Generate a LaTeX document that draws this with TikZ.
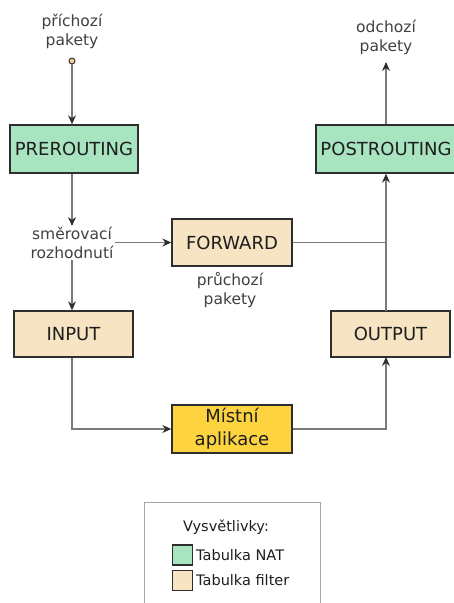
\documentclass[tikz,border=0pt]{standalone}
\usepackage{fontspec}
\setmainfont{DejaVu Sans}
\usetikzlibrary{arrows.meta}
\definecolor{natgreen}{HTML}{A8E4C0}
\definecolor{filterbeige}{HTML}{F6E4C2}
\definecolor{appyellow}{HTML}{FDD43F}
\definecolor{edgegray}{HTML}{7A7A7A}
\definecolor{boxedge}{HTML}{2E2E2E}
\definecolor{ink}{HTML}{1E1E1E}
\tikzset{
  tbl/.style={draw=boxedge, line width=1.4pt, inner sep=0pt, align=center,
    font=\fontsize{18}{23}\selectfont, text=ink},
  lbl/.style={align=center, font=\fontsize{15.5}{19}\selectfont, text=ink!85, inner sep=1pt},
  flow/.style={draw=edgegray, line width=1.1pt, line join=miter},
  arr/.style={flow, -{Stealth[length=9pt,width=8pt,inset=3pt,color=boxedge]}},
}
\begin{document}
\begin{tikzpicture}[x=1pt, y=-1pt]
\useasboundingbox (0,0) rectangle (453,603);

% tables
\node[tbl, fill=natgreen, minimum width=128pt, minimum height=48pt] (pre) at (74,149) {PREROUTING};
\node[tbl, fill=natgreen, minimum width=140pt, minimum height=48pt] (post) at (386,149) {POSTROUTING};
\node[tbl, fill=filterbeige, minimum width=120pt, minimum height=47pt] (fwd) at (232,242.5) {FORWARD};
\node[tbl, fill=filterbeige, minimum width=119pt, minimum height=46pt] (inp) at (73.5,334) {INPUT};
\node[tbl, fill=filterbeige, minimum width=119pt, minimum height=46pt] (out) at (390.5,334) {OUTPUT};
\node[tbl, fill=appyellow, minimum width=120pt, minimum height=48pt] (app) at (232,429) {Místní\\aplikace};

% labels
\node[lbl] (incoming) at (72,31) {příchozí\\pakety};
\node[lbl] (outgoing) at (386,37) {odchozí\\pakety};
\node[lbl] (route) at (72,243) {směrovací\\rozhodnutí};
\node[lbl] (through) at (230,290) {průchozí\\pakety};

% entry point
\node[circle, draw=boxedge, fill=filterbeige!80!orange, line width=0.9pt, minimum size=6pt, inner sep=0pt] (src) at (72,61) {};

% junctions on the right-hand column
\coordinate (jf) at (386,242.5);
\coordinate (ja) at (386,429);
\coordinate (jin) at (72,429);
\coordinate (outtop) at (386,311);
\coordinate (outbot) at (386,357);
\coordinate (outtip) at (386,62);

% connectors
\draw[arr] (src) -- (pre.north -| src);
\draw[arr] (pre.south -| src) -- (route.north);
\draw[arr] (route.east |- fwd.west) -- (fwd.west);
\draw[flow] (fwd.east) -- (jf);
\draw[arr] (route.south) -- (inp.north -| route);
\draw[arr] (inp.south -| route) -- (jin) -- (app.west);
\draw[arr] (app.east) -- (ja) -- (outbot);
\draw[arr] (outtop) -- (post.south);
\draw[arr] (post.north) -- (outtip);

% legend
\draw[draw=black!35, line width=1pt] (144,604) -- (144,502) -- (320,502) -- (320,604);
\node[font=\fontsize{14.5}{17}\selectfont, text=ink] (legtitle) at (226,527) {Vysvětlivky:};
\node[draw=boxedge, line width=1.2pt, fill=natgreen, minimum width=20pt, minimum height=20pt, inner sep=0pt] (kn) at (182.5,555) {};
\node[draw=boxedge, line width=1.2pt, fill=filterbeige, minimum width=20pt, minimum height=20pt, inner sep=0pt] (kf) at (182.5,580.5) {};
\node[anchor=west, font=\fontsize{14.5}{17}\selectfont, text=ink, inner sep=0pt] (kntext) at (196,555) {Tabulka NAT};
\node[anchor=west, font=\fontsize{14.5}{17}\selectfont, text=ink, inner sep=0pt] (kftext) at (196,580.5) {Tabulka filter};
\end{tikzpicture}
\end{document}
